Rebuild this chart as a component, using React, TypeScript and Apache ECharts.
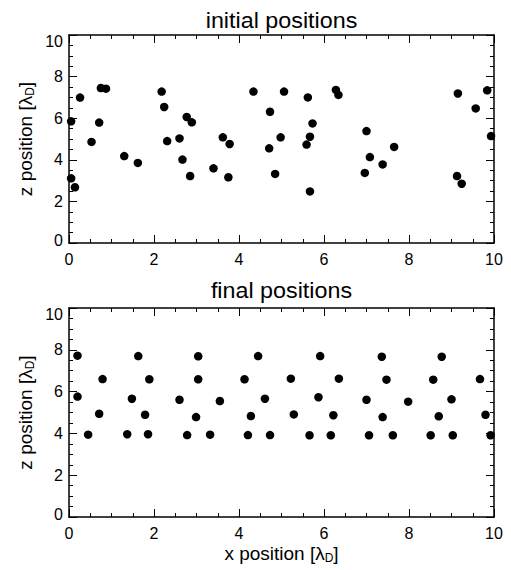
import React, { useEffect, useRef } from "react";
import * as echarts from "echarts";

const xTicks = [0, 2, 4, 6, 8, 10];
const zTicks = [0, 2, 4, 6, 8, 10];

const initialX = [0.05, 0.05, 0.14, 0.26, 0.53, 0.71, 0.75, 0.87, 1.30, 1.62, 2.18, 2.24, 2.31, 2.60, 2.67, 2.77, 2.89, 2.85, 3.40, 3.62, 3.78, 3.75, 4.34, 4.73, 4.71, 4.85, 4.98, 5.06, 5.62, 5.73, 5.67, 5.59, 5.67, 6.28, 6.34, 7.00, 7.08, 6.96, 7.38, 7.65, 9.15, 9.57, 9.84, 9.93, 9.13, 9.24];
const initialZ = [5.85, 3.11, 2.68, 6.99, 4.86, 5.79, 7.45, 7.42, 4.18, 3.85, 7.28, 6.54, 4.90, 5.03, 4.01, 6.06, 5.80, 3.22, 3.59, 5.08, 4.76, 3.16, 7.28, 6.31, 4.55, 3.32, 5.08, 7.28, 7.00, 5.75, 5.11, 4.73, 2.48, 7.36, 7.12, 5.38, 4.13, 3.37, 3.78, 4.62, 7.19, 6.47, 7.34, 5.14, 3.22, 2.85];

const finalX = [0.20, 0.20, 0.45, 0.71, 0.79, 1.37, 1.48, 1.63, 1.79, 1.89, 1.86, 2.60, 2.78, 2.99, 3.04, 3.04, 3.32, 3.55, 4.13, 4.21, 4.28, 4.45, 4.61, 4.73, 5.22, 5.29, 5.66, 5.87, 5.91, 6.16, 6.22, 6.35, 7.00, 7.06, 7.36, 7.38, 7.47, 7.62, 7.98, 8.51, 8.57, 8.70, 8.77, 9.00, 9.03, 9.67, 9.80, 9.92];
const finalZ = [7.72, 5.76, 3.94, 4.94, 6.60, 3.96, 5.66, 7.70, 4.89, 6.59, 3.96, 5.61, 3.92, 4.78, 6.59, 7.69, 3.94, 5.55, 6.59, 3.92, 4.83, 7.70, 5.66, 3.92, 6.62, 4.91, 3.91, 5.73, 7.70, 3.91, 4.87, 6.62, 5.61, 3.91, 7.67, 4.78, 6.57, 3.91, 5.52, 3.91, 6.57, 4.82, 7.67, 5.63, 3.91, 6.60, 4.89, 3.91];

const titles = ["initial positions", "final positions"];
const xName = "x position [λ";
const zName = "z position [λ";

const FONT = "'Liberation Sans', Arial, Helvetica, sans-serif";

export default function App() {
  const ref = useRef<HTMLDivElement>(null);

  useEffect(() => {
    if (!ref.current) return;
    const chart = echarts.init(ref.current, undefined, { renderer: "svg" });

    const grids = [
      { left: 69, top: 35, width: 425, height: 208 },
      { left: 69, top: 308, width: 425, height: 209 },
    ];

    const lineStyle = { color: "#000", width: 1.5 };
    const makeX = (gi: number, pos: "bottom" | "top") => ({
      type: "value",
      gridIndex: gi,
      position: pos,
      min: xTicks[0],
      max: xTicks[xTicks.length - 1],
      interval: xTicks[1] - xTicks[0],
      axisLine: { show: true, onZero: false, lineStyle },
      axisTick: { show: true, inside: true, length: 8, lineStyle: { color: "#000", width: 1 } },
      minorTick: { show: true, splitNumber: 4, length: 4, lineStyle: { color: "#000", width: 1 } },
      splitLine: { show: false },
      axisLabel: {
        show: pos === "bottom",
        color: "#000",
        fontSize: 16,
        fontFamily: FONT,
        margin: 8,
      },
    });
    const makeY = (gi: number, pos: "left" | "right") => ({
      type: "value",
      gridIndex: gi,
      position: pos,
      min: zTicks[0],
      max: zTicks[zTicks.length - 1],
      interval: zTicks[1] - zTicks[0],
      axisLine: { show: true, onZero: false, lineStyle },
      axisTick: { show: true, inside: true, length: 8, lineStyle: { color: "#000", width: 1 } },
      minorTick: { show: true, splitNumber: 4, length: 4, lineStyle: { color: "#000", width: 1 } },
      splitLine: { show: false },
      axisLabel: {
        show: pos === "left",
        color: "#000",
        fontSize: 16,
        fontFamily: FONT,
        margin: 6,
        formatter: (v: number) =>
          v === 10 ? "{t|10}" : v === 0 ? "{b|0}" : String(v),
        rich: {
          t: { fontSize: 16, fontFamily: FONT, color: "#000", padding: [12, 0, 0, 0] },
          b: { fontSize: 16, fontFamily: FONT, color: "#000", padding: [0, 0, 6, 0] },
        },
      },
    });

    const labelRich = {
      a: { fontSize: 19, fontFamily: FONT, color: "#000", lineHeight: 22 },
      s: { fontSize: 12, fontFamily: FONT, color: "#000", lineHeight: 22, verticalAlign: "bottom", padding: [6, 0, 0, 0] },
    };

    const mkTitle = (txt: string, y: number) => ({
      type: "text",
      x: 281.5,
      y,
      scaleX: 1.06,
      originX: 0,
      style: {
        text: txt,
        fontSize: 22,
        fontFamily: FONT,
        fill: "#000",
        textAlign: "center",
        textVerticalAlign: "middle",
      },
    });

    const mkXName = (y: number) => ({
      type: "text",
      x: 281.5,
      y,
      style: {
        text: `{a|${xName}}{s|D}{a|]}`,
        rich: labelRich,
        textAlign: "center",
        textVerticalAlign: "middle",
      },
    });
    const mkZName = (y: number) => ({
      type: "text",
      x: 25,
      y,
      rotation: Math.PI / 2,
      style: {
        text: `{a|${zName}}{s|D}{a|]}`,
        rich: labelRich,
        textAlign: "center",
        textVerticalAlign: "middle",
      },
    });

    const dot = { color: "#000", opacity: 1 };

    const option: any = {
      animation: false,
      backgroundColor: "#fff",
      grid: grids,
      xAxis: [makeX(0, "bottom"), makeX(0, "top"), makeX(1, "bottom"), makeX(1, "top")],
      yAxis: [makeY(0, "left"), makeY(0, "right"), makeY(1, "left"), makeY(1, "right")],
      graphic: [
        mkTitle(titles[0], 20),
        mkTitle(titles[1], 290),
        mkZName(139),
        mkZName(412.5),
        mkXName(553),
      ],
      series: [
        {
          type: "scatter",
          xAxisIndex: 0,
          yAxisIndex: 0,
          symbol: "circle",
          symbolSize: 8.5,
          itemStyle: dot,
          emphasis: { disabled: true },
          data: initialX.map((x, i) => [x, initialZ[i]]),
        },
        {
          type: "scatter",
          xAxisIndex: 2,
          yAxisIndex: 2,
          symbol: "circle",
          symbolSize: 8.5,
          itemStyle: dot,
          emphasis: { disabled: true },
          data: finalX.map((x, i) => [x, finalZ[i]]),
        },
      ],
    };
    chart.setOption(option);
    return () => chart.dispose();
  }, []);

  return (
    <div
      ref={ref}
      style={{ position: "absolute", left: 0, top: 0, width: 511, height: 570, background: "#fff" }}
    />
  );
}
